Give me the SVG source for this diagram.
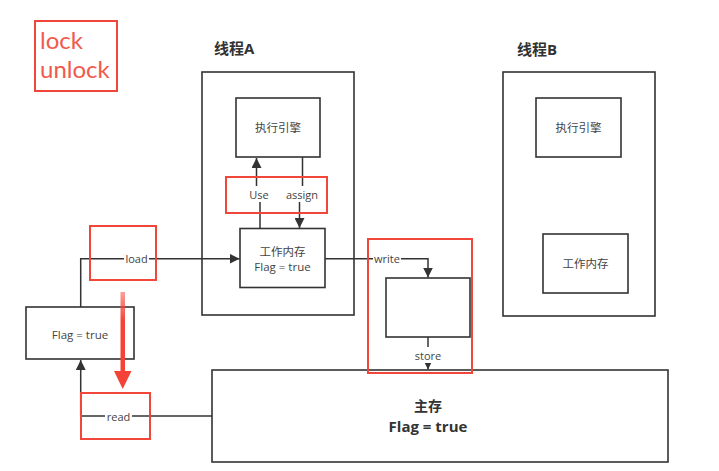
<svg xmlns="http://www.w3.org/2000/svg" width="719" height="471" viewBox="0 0 719 471">
<style>
.box{fill:#fff;stroke:#333;stroke-width:1.6}
.red{fill:none;stroke:#f0473a;stroke-width:2}
.ln{fill:none;stroke:#333;stroke-width:1.5}
.t{font-family:"Open Sans","Noto Sans CJK SC",sans-serif;font-size:11.5px;fill:#444;text-anchor:middle;dominant-baseline:central}
.lbl{font-family:"Open Sans","Noto Sans CJK SC",sans-serif;font-size:11px;fill:#444;text-anchor:middle;dominant-baseline:central}
.title{font-family:"Open Sans","Noto Sans CJK SC",sans-serif;font-size:15px;font-weight:bold;fill:#333}
.main{font-family:"Open Sans","Noto Sans CJK SC",sans-serif;font-size:15px;font-weight:bold;fill:#333;text-anchor:middle}
.lk{font-family:"Lato","Open Sans",sans-serif;font-size:24px;fill:#f05a4c}
</style>
<defs>
<marker id="ah" viewBox="0 0 10 10" refX="10" refY="5" markerWidth="10" markerHeight="10" markerUnits="userSpaceOnUse" orient="auto">
<path d="M0,0 L10,5 L0,10 z" fill="#333"/>
</marker>
<linearGradient id="rg" x1="0" y1="0" x2="0" y2="1">
<stop offset="0" stop-color="#f44336" stop-opacity="0.5"/>
<stop offset="0.3" stop-color="#f44336"/>
</linearGradient>
</defs>
<rect width="719" height="471" fill="#fff"/>

<g id="lockbox">
<rect class="red" x="35" y="21" width="82" height="70"/>
<text class="lk" x="40" y="49">lock</text>
<text class="lk" x="40" y="78">unlock</text>
</g>

<g id="threadA">
<text class="title" x="214" y="54">线程A</text>
<rect class="box" x="202" y="72" width="152" height="243"/>
</g>
<g id="threadB">
<text class="title" x="517" y="55">线程B</text>
<rect class="box" x="503" y="72" width="152" height="244"/>
</g>
<g id="engineA">
<rect class="box" x="236" y="98" width="84" height="59"/>
<text class="t" x="278" y="127">执行引擎</text>
</g>
<g id="workA">
<rect class="box" x="240" y="228.5" width="85" height="59"/>
<text class="t" x="282.5" y="251">工作内存</text>
<text class="t" x="282.5" y="266">Flag = true</text>
</g>
<g id="engineB">
<rect class="box" x="536" y="98" width="85" height="59"/>
<text class="t" x="578.5" y="127">执行引擎</text>
</g>
<g id="workB">
<rect class="box" x="543" y="234" width="85" height="59"/>
<text class="t" x="585.5" y="263">工作内存</text>
</g>
<g id="storebox">
<rect class="box" x="386" y="278" width="84" height="59"/>
</g>
<g id="flagbox">
<rect class="box" x="26" y="307" width="108" height="52"/>
<text class="t" x="80" y="334">Flag = true</text>
</g>
<g id="mainmem">
<rect class="box" x="212" y="370" width="456" height="92"/>
<text class="main" x="428" y="411" style="font-size:14px">主存</text>
<text class="main" x="428" y="432">Flag = true</text>
</g>

<g id="connectors">
<path class="ln" d="M260,228.5 V194 H256.5 V158" marker-end="url(#ah)"/>
<path class="ln" d="M302.5,157 V194 H299.5 V228" marker-end="url(#ah)"/>
<path class="ln" d="M80.7,307 V258.7 H239.5" marker-end="url(#ah)"/>
<path class="ln" d="M325,258.7 H428 V277.5" marker-end="url(#ah)"/>
<path class="ln" d="M428,337 V369.5" marker-end="url(#ah)"/>
<path class="ln" d="M212,416 H80.7 V360" marker-end="url(#ah)"/>
<rect x="246" y="186" width="27" height="16" fill="#fff"/>
<text class="lbl" x="259" y="194">Use</text>
<rect x="284" y="186" width="36" height="16" fill="#fff"/>
<text class="lbl" x="302" y="194">assign</text>
<rect x="124" y="251" width="25" height="16" fill="#fff"/>
<text class="lbl" x="136.5" y="258.7">load</text>
<rect x="373" y="251" width="28" height="16" fill="#fff"/>
<text class="lbl" x="387" y="258.7">write</text>
<rect x="414" y="347" width="28" height="16" fill="#fff"/>
<text class="lbl" x="428" y="355">store</text>
<rect x="105" y="408" width="27" height="16" fill="#fff"/>
<text class="lbl" x="118.5" y="416">read</text>
</g>

<g id="highlights">
<rect class="red" x="226" y="177" width="101" height="36"/>
<rect class="red" x="90" y="226" width="66" height="54"/>
<rect class="red" x="368" y="239" width="104" height="134"/>
<rect class="red" x="81" y="393" width="69" height="46"/>
<path d="M120.5,292 H125 V371 H131.5 L122.7,389 L114,371 H120.5 z" fill="url(#rg)"/>
</g>
</svg>
